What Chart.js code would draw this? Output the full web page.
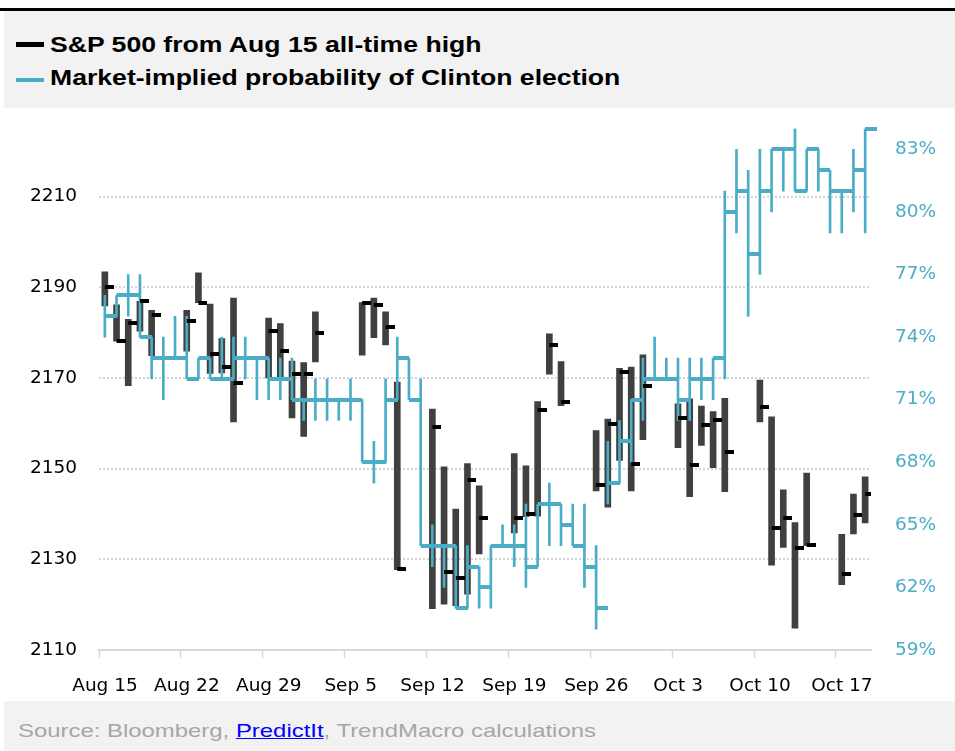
<!DOCTYPE html>
<html>
<head>
<meta charset="utf-8">
<title>S&amp;P 500 vs Clinton probability</title>
<script src="https://cdn.jsdelivr.net/npm/chart.js@4/dist/chart.umd.min.js"></script>
<style>
  html, body { margin: 0; padding: 0; background: #fff; }
  body { width: 955px; height: 751px; position: relative; overflow: hidden; font-family: "Liberation Sans", Arial, sans-serif; }
  #rule { position: absolute; left: 0; top: 8px; width: 955px; height: 3px; background: #000; }
  #head { position: absolute; left: 4px; top: 11px; width: 951px; height: 97px; background: #f2f2f2; }
  .key { position: absolute; left: 16px; width: 28px; }
  .lbl { position: absolute; left: 50px; font-weight: bold; font-size: 21.5px; line-height: 24px; color: #000;
         white-space: nowrap; transform: scaleX(1.237); transform-origin: left center; }
  #foot { position: absolute; left: 4px; top: 701px; width: 951px; height: 50px; background: #f2f2f2; }
  #src { position: absolute; left: 18px; top: 720px; font-size: 19px; line-height: 22px; color: #a6a6a6;
         white-space: nowrap; transform: scaleX(1.258); transform-origin: left center; }
  #src a { color: #0000ff; text-decoration: underline; }
  #chart { position: absolute; left: 0; top: 108px; }
</style>
</head>
<body>
<div id="rule"></div>
<div id="head"></div>
<div class="key" style="top:42px;height:5px;background:#000"></div>
<div class="lbl" style="top:33px">S&amp;P 500 from Aug 15 all-time high</div>
<div class="key" style="top:78px;height:4px;background:#4bacc6"></div>
<div class="lbl" style="top:66px">Market-implied probability of Clinton election</div>
<canvas id="chart" width="955" height="592"></canvas>
<div id="foot"></div>
<div id="src">Source: Bloomberg, <a href="#">PredictIt</a>, TrendMacro calculations</div>
<script>
const TEAL = "#4bacc6";

const xTickLabels = ["Aug 15", "Aug 22", "Aug 29", "Sep 5", "Sep 12", "Sep 19", "Sep 26", "Oct 3", "Oct 10", "Oct 17"];
const spTicks = [2110, 2130, 2150, 2170, 2190, 2210];
const probTicks = [59, 62, 65, 68, 71, 74, 77, 80, 83];

// S&P 500 trading days, as days after Aug 15 2016
const spDay = [0, 1, 2, 3, 4, 7, 8, 9, 10, 11, 14, 15, 16, 17, 18, 22, 23, 24, 25,
  28, 29, 30, 31, 32, 35, 36, 37, 38, 39, 42, 43, 44, 45, 46, 49, 50, 51, 52, 53,
  56, 57, 58, 59, 60, 63, 64, 65];
const spHigh = [2193.4, 2186.1, 2182.9, 2186.9, 2184.9, 2184.9, 2193.2, 2186.3, 2178.7, 2187.6,
  2183.2, 2182.0, 2173.7, 2173.4, 2184.6, 2186.6, 2187.6, 2184.6, 2169.1,
  2163.1, 2150.4, 2141.1, 2151.1, 2146.2, 2153.3, 2150.6, 2164.8, 2179.7, 2173.6,
  2158.4, 2160.9, 2172.1, 2172.4, 2175.1, 2164.3, 2165.4, 2163.8, 2162.6, 2165.5,
  2169.5, 2161.4, 2145.3, 2138.1, 2149.0, 2135.5, 2144.4, 2148.2];
const spLow = [2185.9, 2178.1, 2168.3, 2180.3, 2174.9, 2175.9, 2186.6, 2171.0, 2171.1, 2160.3,
  2170.0, 2170.3, 2161.2, 2157.1, 2173.5, 2175.0, 2178.9, 2177.3, 2127.7,
  2119.1, 2120.1, 2119.8, 2122.3, 2131.2, 2135.8, 2139.4, 2139.5, 2170.8, 2163.9,
  2145.1, 2141.5, 2151.8, 2145.1, 2156.4, 2154.6, 2143.8, 2155.1, 2150.2, 2144.9,
  2160.3, 2128.7, 2132.6, 2114.8, 2133.0, 2124.4, 2135.6, 2138.0];
const spClose = [2190.0, 2178.1, 2182.0, 2186.9, 2183.8, 2182.5, 2186.6, 2175.3, 2172.4, 2168.9,
  2180.3, 2175.9, 2170.9, 2170.9, 2179.9, 2186.5, 2186.0, 2181.2, 2127.8,
  2159.2, 2127.1, 2125.8, 2147.4, 2139.0, 2139.0, 2139.9, 2163.0, 2177.3, 2164.7,
  2146.3, 2159.9, 2171.3, 2151.1, 2168.2, 2161.2, 2150.7, 2159.7, 2160.8, 2153.7,
  2163.6, 2136.8, 2139.2, 2132.6, 2133.1, 2126.7, 2139.7, 2144.3];

// PredictIt Clinton odds (%), every calendar day Aug 15 .. Oct 19
const probHigh = [76, 76, 77, 77, 74, 74, 75, 75, 73, 73, 74, 74, 74, 73,
  73, 73, 73, 71, 72, 72, 71, 72, 71, 69, 72, 74, 73, 72,
  65, 64, 64, 64, 63, 64, 65, 65, 66, 66, 67, 66, 66, 66,
  64, 69, 70, 71, 73, 74, 73, 73, 73, 73, 73, 81, 83, 82,
  83, 83, 83, 84, 83, 83, 82, 81, 83, 84];
const probLow = [74, 75, 75, 74, 72, 71, 73, 72, 72, 72, 72, 72, 72, 71,
  71, 71, 71, 70, 70, 70, 70, 70, 68, 67, 68, 71, 71, 64,
  63, 62, 61, 61, 61, 61, 64, 63, 62, 63, 64, 64, 64, 62,
  60, 66, 67, 68, 70, 72, 72, 70, 70, 71, 71, 72, 79, 75,
  77, 80, 81, 81, 81, 81, 79, 79, 80, 79];
const probClose = [75, 76, 76, 74, 73, 73, 73, 72, 73, 72, 72, 73, 73, 73,
  72, 72, 71, 71, 71, 71, 71, 71, 68, 68, 71, 73, 71, 64,
  64, 64, 61, 63, 62, 64, 64, 64, 63, 66, 66, 65, 64, 63,
  61, 67, 69, 71, 72, 72, 72, 71, 72, 72, 73, 80, 81, 78,
  81, 83, 83, 81, 83, 82, 81, 81, 82, 84];

// close marker: a dash that starts at the point and runs to the right
function dash(len, thick, color) {
  const c = document.createElement("canvas");
  c.width = len * 2;
  c.height = thick;
  const g = c.getContext("2d");
  g.fillStyle = color;
  g.fillRect(len, 0, len, thick);
  return c;
}

const spRange = spDay.map((d, k) => ({ x: d + 0.5, y: [spLow[k], spHigh[k]] }));
const spEnd = spDay.map((d, k) => ({ x: d + 0.5, y: spClose[k] }));
const probRange = probClose.map((_, d) => ({ x: d + 0.5, y: [probLow[d], probHigh[d]] }));
const probEnd = probClose.map((v, d) => ({ x: d + 0.5, y: v }));

const axisFont = { family: "DejaVu Sans", size: 18.5 };

// fixed axis box sizes so the plot area lands where the original has it
function fixWidth(w) {
  return (a) => {
    a.width = w;
    a.paddingTop = 0;
    a.paddingBottom = 0;
  };
}

function createChart() {
  new Chart(document.getElementById("chart"), {
    type: "bar",
    data: {
      datasets: [
        {
          type: "bar", data: spRange, yAxisID: "y", backgroundColor: "#404040",
          barThickness: 6, grouped: false, order: 4,
        },
        {
          type: "bar", data: probRange, yAxisID: "y1", backgroundColor: TEAL,
          barThickness: 2, grouped: false, order: 3,
        },
        {
          type: "line", data: probEnd, yAxisID: "y1", showLine: false,
          pointStyle: dash(12, 4, TEAL), pointRadius: 1, clip: false, order: 2,
        },
        {
          type: "line", data: spEnd, yAxisID: "y", showLine: false,
          pointStyle: dash(9, 4, "#000"), pointRadius: 1, order: 1,
        },
      ],
    },
    options: {
      responsive: false,
      animation: false,
      events: [],
      devicePixelRatio: 1,
      layout: { padding: { top: 20.5, left: 0, right: 0, bottom: 0 } },
      plugins: { legend: { display: false }, tooltip: { enabled: false } },
      scales: {
        x: {
          type: "linear", min: 0, max: 66, offset: false,
          afterBuildTicks: (a) => { a.ticks = xTickLabels.map((_, k) => ({ value: k * 7 })); },
          afterFit: (a) => { a.height = 50; a.paddingLeft = 0; a.paddingRight = 0; },
          grid: {
            drawOnChartArea: false, drawTicks: true, tickLength: 8,
            tickColor: "#d9d9d9", tickWidth: 1.5, offset: false,
          },
          border: { display: true, color: "#d9d9d9", width: 2 },
          ticks: {
            autoSkip: false, maxRotation: 0, padding: 17, labelOffset: 6,
            color: "#000", font: axisFont,
            callback: (v, k) => xTickLabels[k],
          },
        },
        y: {
          position: "left", min: 2110, max: 2225,
          afterBuildTicks: (a) => { a.ticks = spTicks.map((v) => ({ value: v })); },
          afterFit: fixWidth(99),
          grid: {
            color: (c) => (c.tick && c.tick.value === spTicks[0] ? "rgba(0,0,0,0)" : "#d4d4d4"),
            lineWidth: 2, drawTicks: false,
          },
          border: { display: false, dash: [2, 2] },
          ticks: { padding: 22, color: "#000", font: axisFont, callback: (v) => String(v) },
        },
        y1: {
          position: "right", min: 59, max: 84,
          afterBuildTicks: (a) => { a.ticks = probTicks.map((v) => ({ value: v })); },
          afterFit: fixWidth(84),
          grid: { display: false, drawTicks: false },
          border: { display: false },
          ticks: { padding: 24, color: TEAL, font: axisFont, callback: (v) => v + "%" },
        },
      },
    },
  });
}

createChart();
</script>
</body>
</html>
